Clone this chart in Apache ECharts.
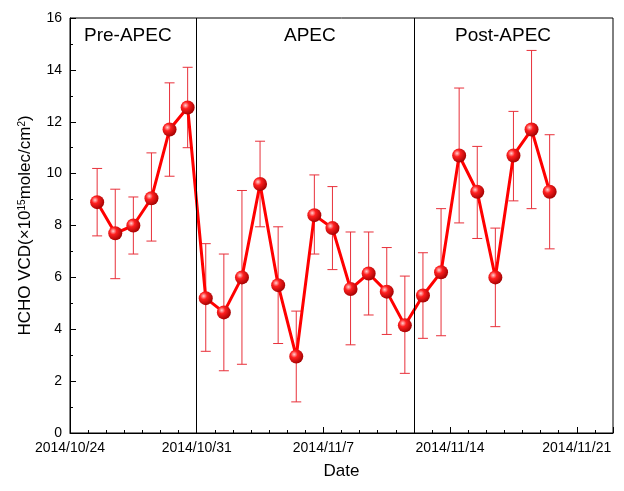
<!DOCTYPE html><html><head><meta charset="utf-8">
<script src="https://cdn.jsdelivr.net/npm/echarts@6/dist/echarts.min.js"></script>
<style>body{margin:0}#c{width:624px;height:491px}</style></head><body><div id="c"></div>
<script>
const dates=['2014-10-25','2014-10-26','2014-10-27','2014-10-28','2014-10-29','2014-10-30','2014-10-31','2014-11-01','2014-11-02','2014-11-03','2014-11-04','2014-11-05','2014-11-06','2014-11-07','2014-11-08','2014-11-09','2014-11-10','2014-11-11','2014-11-12','2014-11-13','2014-11-14','2014-11-15','2014-11-16','2014-11-17','2014-11-18','2014-11-19'];
const vcd=[8.9,7.7,8.0,9.05,11.7,12.55,5.2,4.65,6.0,9.6,5.7,2.95,8.4,7.9,5.55,6.15,5.45,4.15,5.3,6.2,10.7,9.3,6.0,10.7,11.7,9.3];
const low=[7.6,5.95,6.9,7.4,9.9,11.0,3.15,2.4,2.65,7.95,3.45,1.2,6.9,6.3,3.4,4.55,3.8,2.3,3.65,3.75,8.1,7.5,4.1,8.95,8.65,7.1];
const high=[10.2,9.4,9.1,10.8,13.5,14.1,7.3,6.9,9.35,11.25,7.95,4.7,9.95,9.5,7.75,7.75,7.15,6.05,6.95,8.65,13.3,11.05,7.9,12.4,14.75,11.5];
const xTicks=['2014/10/24','2014/10/31','2014/11/7','2014/11/14','2014/11/21'];
const periods=['Pre-APEC','APEC','Post-APEC'];
const dividers=['2014-10-31','2014-11-12'];
const t0=Date.UTC(2014,9,24);
const day=s=>{const p=s.split('-');return (Date.UTC(+p[0],+p[1]-1,+p[2])-t0)/864e5;};
const xs=dates.map(d=>day(d)+0.5);
const c=echarts.init(document.getElementById('c'));
const font='Arial, Liberation Sans, sans-serif';
c.setOption({
 animation:false,
 grid:{left:70,right:11,top:18,bottom:58,show:true,borderColor:'#000',borderWidth:1},
 xAxis:{type:'value',min:0,max:30,interval:7,name:'Date',nameLocation:'middle',nameGap:30,
  nameTextStyle:{fontSize:17,color:'#000',fontFamily:font},
  axisLine:{lineStyle:{color:'#000'}},axisTick:{inside:true,length:6,lineStyle:{color:'#000'}},
  minorTick:{show:true,splitNumber:7,length:3,lineStyle:{color:'#000'}},
  splitLine:{show:false},
  axisLabel:{color:'#000',fontSize:14,fontFamily:font,showMaxLabel:false,formatter:v=>xTicks[v/7]||''}},
 yAxis:{type:'value',min:0,max:16,interval:2,name:'{a|HCHO VCD(×10}{s|15}{a|molec/cm}{s|2}{a|)}',nameLocation:'middle',nameGap:36,
  nameTextStyle:{rich:{a:{fontSize:17,color:'#000',fontFamily:font},s:{fontSize:10,color:'#000',fontFamily:font,verticalAlign:'top',lineHeight:10}}},
  axisLine:{lineStyle:{color:'#000'}},axisTick:{inside:true,length:6,lineStyle:{color:'#000'}},
  minorTick:{show:true,splitNumber:2,length:3,lineStyle:{color:'#000'}},
  splitLine:{show:false},axisLabel:{color:'#000',fontSize:14,fontFamily:font}},
 graphic:[
  {type:'text',left:84,top:26,style:{text:periods[0],fontSize:19,fill:'#000',fontFamily:font}},
  {type:'text',left:284,top:26,style:{text:periods[1],fontSize:19,fill:'#000',fontFamily:font}},
  {type:'text',left:455,top:26,style:{text:periods[2],fontSize:19,fill:'#000',fontFamily:font}}],
 series:[
  {type:'custom',z:1,data:xs.map((x,i)=>[x,low[i],high[i]]),
   renderItem:(p,api)=>{const a=api.coord([api.value(0),api.value(1)]),b=api.coord([api.value(0),api.value(2)]);const w=5;const st={stroke:'#e8303a',lineWidth:1};
    return {type:'group',children:[{type:'line',shape:{x1:a[0],y1:a[1],x2:b[0],y2:b[1]},style:st},{type:'line',shape:{x1:a[0]-w,y1:a[1],x2:a[0]+w,y2:a[1]},style:st},{type:'line',shape:{x1:b[0]-w,y1:b[1],x2:b[0]+w,y2:b[1]},style:st}]};}},
  {type:'line',z:3,data:xs.map((x,i)=>[x,vcd[i]]),symbol:'circle',symbolSize:14,
   lineStyle:{color:'#f00',width:3},
   itemStyle:{color:{type:'radial',x:0.35,y:0.35,r:0.7,colorStops:[{offset:0,color:'#ffd0d0'},{offset:0.35,color:'#ff2020'},{offset:1,color:'#a00000'}]},borderWidth:0},
   markLine:{silent:true,symbol:'none',label:{show:false},lineStyle:{color:'#000',width:1,type:'solid'},data:dividers.map(d=>({xAxis:day(d)}))}}
 ]});
</script></body></html>
